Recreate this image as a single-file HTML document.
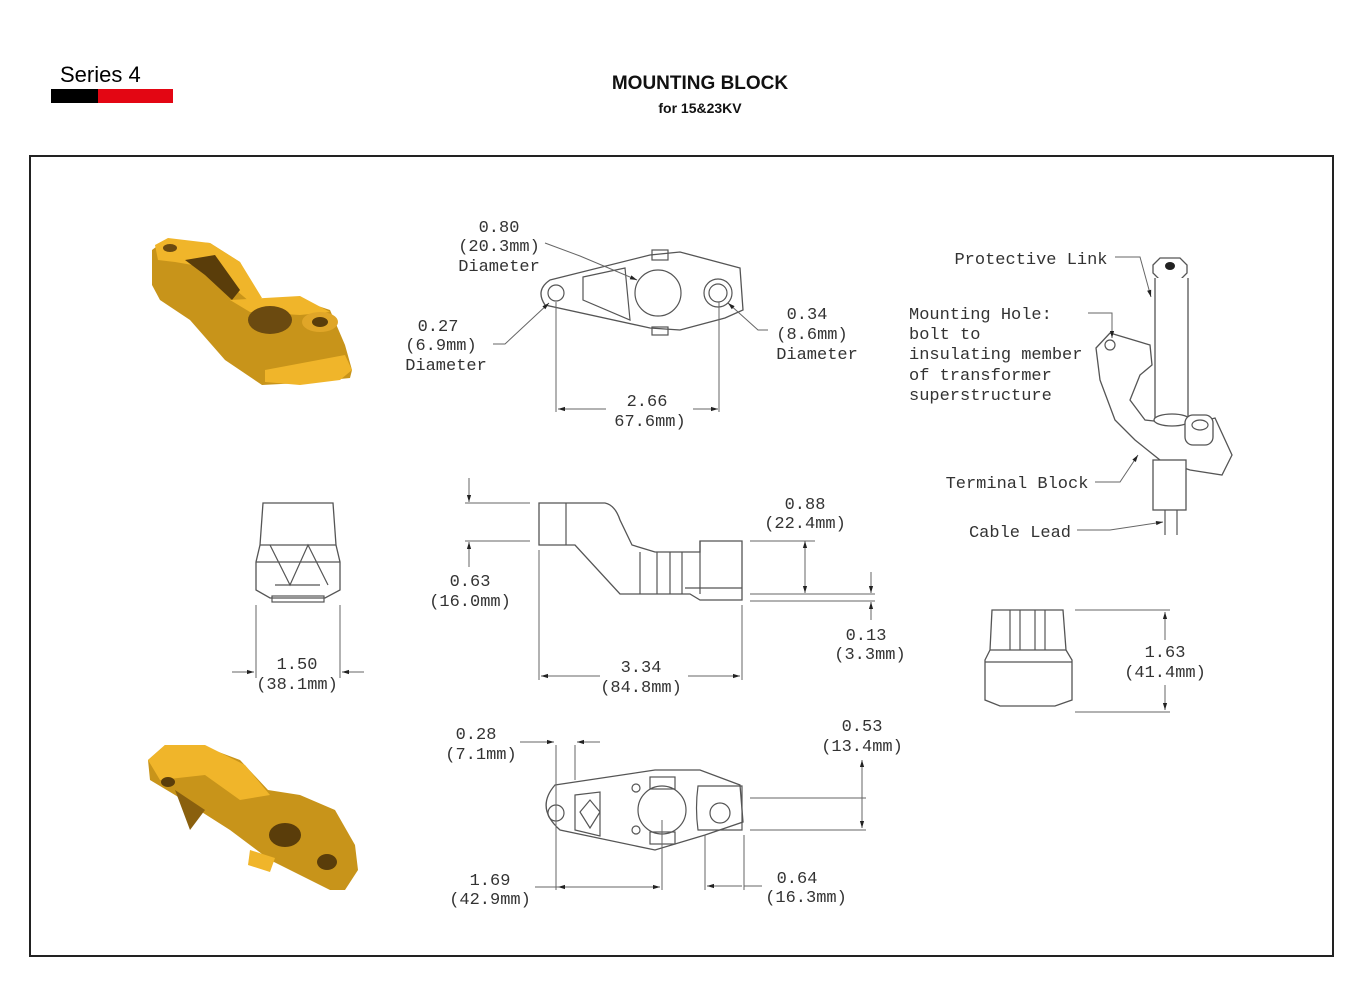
<!DOCTYPE html>
<html><head><meta charset="utf-8"><style>
html,body{margin:0;padding:0;background:#fff;}
svg{display:block;}
.t{font-family:"Liberation Mono",monospace;font-size:17px;fill:#333;}
.l{stroke:#555;stroke-width:1.2;fill:none;}
.d{stroke:#666;stroke-width:1;fill:none;}
.p{stroke:#555;stroke-width:1.3;fill:#fff;}
</style></head><body>
<svg width="1360" height="1003" viewBox="0 0 1360 1003" xmlns="http://www.w3.org/2000/svg">
<defs><marker id="a" viewBox="0 0 10 10" refX="10" refY="5" markerWidth="9" markerHeight="7" orient="auto-start-reverse"><path d="M0,2 L10,5 L0,8z" fill="#222"/></marker></defs>
<!-- header -->
<text x="60" y="82" font-family="Liberation Sans,sans-serif" font-size="22" fill="#000">Series 4</text>
<rect x="51" y="89" width="47" height="14" fill="#000"/><rect x="98" y="89" width="75" height="14" fill="#e30613"/>
<text x="700" y="89" text-anchor="middle" font-family="Liberation Sans,sans-serif" font-weight="bold" font-size="19" fill="#111">MOUNTING BLOCK</text>
<text x="700" y="113" text-anchor="middle" font-family="Liberation Sans,sans-serif" font-weight="bold" font-size="14" fill="#111">for 15&amp;23KV</text>
<rect x="30" y="156" width="1303" height="800" fill="none" stroke="#222" stroke-width="2"/>

<!-- gold part 1 -->
<g>
<polygon points="152,250 165,240 210,243 240,262 260,300 300,300 330,310 345,345 352,370 350,378 300,383 262,385 225,360 190,320 160,300 152,285" fill="#c8941a"/>
<polygon points="155,245 168,238 210,243 240,262 262,298 250,302 210,268 175,262 158,260" fill="#f0b52a"/>
<polygon points="185,260 215,255 240,290 232,300 205,275" fill="#5a3d0a"/>
<polygon points="230,300 300,296 330,312 300,315 250,312" fill="#f0b52a"/>
<ellipse cx="270" cy="320" rx="22" ry="14" fill="#6b4a10"/>
<ellipse cx="320" cy="322" rx="18" ry="10" fill="#e0a628"/><ellipse cx="320" cy="322" rx="8" ry="5" fill="#5a3d0a"/>
<polygon points="265,370 345,355 352,370 340,380 300,385 265,382" fill="#f0b52a"/>
<ellipse cx="170" cy="248" rx="7" ry="4" fill="#6b4a10"/>
</g>
<!-- gold part 2 -->
<g>
<polygon points="148,760 165,745 200,745 240,760 268,790 300,795 335,810 355,845 358,870 345,890 330,890 270,860 230,830 175,795 150,780" fill="#c8941a"/>
<polygon points="148,760 165,745 205,745 245,765 270,795 240,800 205,775 160,780" fill="#f0b52a"/>
<polygon points="175,790 205,810 190,830" fill="#8a600e"/>
<ellipse cx="285" cy="835" rx="16" ry="12" fill="#5a3d0a"/>
<ellipse cx="327" cy="862" rx="10" ry="8" fill="#5a3d0a"/>
<ellipse cx="168" cy="782" rx="7" ry="5" fill="#5a3d0a"/>
<polygon points="250,850 275,858 270,872 248,865" fill="#f0b52a"/>
</g>

<!-- top view -->
<path class="p" d="M550,280 L650,255 L680,252 L740,268 L743,310 L725,318 L680,330 L650,328 L545,305 Q535,290 550,280z"/>
<circle class="l" cx="556" cy="293" r="8"/>
<path class="l" d="M583,277 L625,268 L630,320 L583,300z"/>
<circle class="l" cx="658" cy="293" r="23"/>
<rect class="l" x="652" y="250" width="16" height="10"/><rect class="l" x="652" y="327" width="16" height="8"/>
<circle class="l" cx="718" cy="293" r="14"/><circle class="l" cx="718" cy="293" r="9"/>
<line class="d" x1="556" y1="302" x2="556" y2="412"/><line class="d" x1="719" y1="302" x2="719" y2="412"/>
<line class="d" x1="558" y1="409" x2="606" y2="409" marker-start="url(#a)"/><line class="d" x1="693" y1="409" x2="718" y2="409" marker-end="url(#a)"/>
<text class="t" x="647" y="406" text-anchor="middle">2.66</text><text class="t" x="650" y="426" text-anchor="middle">67.6mm)</text>
<polyline class="d" points="545,243 580,256 637,280" marker-end="url(#a)"/>
<text class="t" x="499" y="232" text-anchor="middle">0.80</text><text class="t" x="499" y="251" text-anchor="middle">(20.3mm)</text><text class="t" x="499" y="271" text-anchor="middle">Diameter</text>
<polyline class="d" points="493,344 505,344 549,303" marker-end="url(#a)"/>
<text class="t" x="438" y="331" text-anchor="middle">0.27</text><text class="t" x="441" y="350" text-anchor="middle">(6.9mm)</text><text class="t" x="446" y="370" text-anchor="middle">Diameter</text>
<polyline class="d" points="768,330 758,330 728,303" marker-end="url(#a)"/>
<text class="t" x="807" y="319" text-anchor="middle">0.34</text><text class="t" x="812" y="339" text-anchor="middle">(8.6mm)</text><text class="t" x="817" y="359" text-anchor="middle">Diameter</text>

<!-- side view -->
<path class="p" d="M539,503 L605,503 Q615,505 620,520 L632,545 L655,552 L700,552 L700,541 L742,541 L742,600 L700,600 L690,594 L620,594 L575,545 L539,545z"/>
<line class="l" x1="566" y1="503" x2="566" y2="545"/>
<line class="l" x1="640" y1="552" x2="640" y2="594"/><line class="l" x1="657" y1="552" x2="657" y2="594"/><line class="l" x1="670" y1="552" x2="670" y2="594"/><line class="l" x1="682" y1="552" x2="682" y2="594"/>
<line class="l" x1="700" y1="541" x2="700" y2="594"/><line class="l" x1="685" y1="588" x2="742" y2="588"/>
<line class="d" x1="465" y1="503" x2="530" y2="503"/><line class="d" x1="465" y1="541" x2="530" y2="541"/>
<line class="d" x1="469" y1="478" x2="469" y2="502" marker-end="url(#a)"/><line class="d" x1="469" y1="567" x2="469" y2="542" marker-end="url(#a)"/>
<text class="t" x="470" y="586" text-anchor="middle">0.63</text><text class="t" x="470" y="606" text-anchor="middle">(16.0mm)</text>
<line class="d" x1="750" y1="541" x2="815" y2="541"/><line class="d" x1="750" y1="594" x2="875" y2="594"/><line class="d" x1="750" y1="601" x2="875" y2="601"/>
<line class="d" x1="805" y1="541" x2="805" y2="593" marker-start="url(#a)" marker-end="url(#a)"/>
<text class="t" x="805" y="509" text-anchor="middle">0.88</text><text class="t" x="805" y="528" text-anchor="middle">(22.4mm)</text>
<line class="d" x1="871" y1="572" x2="871" y2="593" marker-end="url(#a)"/><line class="d" x1="871" y1="620" x2="871" y2="602" marker-end="url(#a)"/>
<text class="t" x="866" y="640" text-anchor="middle">0.13</text><text class="t" x="870" y="659" text-anchor="middle">(3.3mm)</text>
<line class="d" x1="539" y1="550" x2="539" y2="680"/><line class="d" x1="742" y1="605" x2="742" y2="680"/>
<line class="d" x1="541" y1="676" x2="600" y2="676" marker-start="url(#a)"/><line class="d" x1="688" y1="676" x2="740" y2="676" marker-end="url(#a)"/>
<text class="t" x="641" y="672" text-anchor="middle">3.34</text><text class="t" x="641" y="692" text-anchor="middle">(84.8mm)</text>

<!-- end view left -->
<path class="p" d="M263,503 L333,503 L336,545 L340,562 L340,590 L325,598 L270,598 L256,590 L256,562 L260,545z"/>
<line class="l" x1="260" y1="545" x2="336" y2="545"/><line class="l" x1="256" y1="562" x2="340" y2="562"/>
<path class="l" d="M270,545 L290,585 L308,545 L328,585 M275,585 L320,585"/>
<rect class="l" x="272" y="596" width="52" height="6"/>
<line class="d" x1="256" y1="605" x2="256" y2="678"/><line class="d" x1="340" y1="605" x2="340" y2="678"/>
<line class="d" x1="232" y1="672" x2="254" y2="672" marker-end="url(#a)"/><line class="d" x1="364" y1="672" x2="342" y2="672" marker-end="url(#a)"/>
<text class="t" x="297" y="669" text-anchor="middle">1.50</text><text class="t" x="297" y="689" text-anchor="middle">(38.1mm)</text>

<!-- end view right -->
<path class="p" d="M992,610 L1063,610 L1066,650 L1072,660 L1072,700 L1055,706 L1000,706 L985,700 L985,660 L990,650z"/>
<line class="l" x1="990" y1="650" x2="1066" y2="650"/><line class="l" x1="985" y1="662" x2="1072" y2="662"/>
<line class="l" x1="1010" y1="610" x2="1010" y2="650"/><line class="l" x1="1045" y1="610" x2="1045" y2="650"/>
<line class="l" x1="1020" y1="610" x2="1020" y2="650"/><line class="l" x1="1035" y1="610" x2="1035" y2="650"/>
<line class="d" x1="1075" y1="610" x2="1170" y2="610"/><line class="d" x1="1075" y1="712" x2="1170" y2="712"/>
<line class="d" x1="1165" y1="612" x2="1165" y2="640" marker-start="url(#a)"/><line class="d" x1="1165" y1="685" x2="1165" y2="710" marker-end="url(#a)"/>
<text class="t" x="1165" y="657" text-anchor="middle">1.63</text><text class="t" x="1165" y="677" text-anchor="middle">(41.4mm)</text>

<!-- bottom view -->
<path class="p" d="M555,785 L655,770 L700,770 L740,785 L743,822 L705,835 L655,850 L560,830 Q535,808 555,785z"/>
<circle class="l" cx="556" cy="813" r="8"/>
<path class="l" d="M575,795 L600,792 L600,836 L575,830z M580,812 L590,800 L600,812 L590,828z"/>
<circle class="l" cx="662" cy="810" r="24"/>
<rect class="l" x="650" y="777" width="25" height="12"/><rect class="l" x="650" y="832" width="25" height="12"/>
<circle class="l" cx="636" cy="788" r="4"/><circle class="l" cx="636" cy="830" r="4"/>
<path class="l" d="M698,786 L742,786 L742,830 L698,830 Q695,808 698,786z"/><circle class="l" cx="720" cy="813" r="10"/>
<line class="d" x1="556" y1="745" x2="556" y2="890"/><line class="d" x1="575" y1="745" x2="575" y2="780"/>
<line class="d" x1="520" y1="742" x2="554" y2="742" marker-end="url(#a)"/><line class="d" x1="600" y1="742" x2="577" y2="742" marker-end="url(#a)"/>
<text class="t" x="476" y="739" text-anchor="middle">0.28</text><text class="t" x="481" y="759" text-anchor="middle">(7.1mm)</text>
<line class="d" x1="662" y1="820" x2="662" y2="890"/>
<line class="d" x1="535" y1="887" x2="558" y2="887"/><line class="d" x1="558" y1="887" x2="660" y2="887" marker-start="url(#a)" marker-end="url(#a)"/>
<text class="t" x="490" y="885" text-anchor="middle">1.69</text><text class="t" x="490" y="904" text-anchor="middle">(42.9mm)</text>
<line class="d" x1="705" y1="835" x2="705" y2="890"/><line class="d" x1="744" y1="835" x2="744" y2="890"/>
<line class="d" x1="707" y1="886" x2="742" y2="886" marker-start="url(#a)"/><line class="d" x1="744" y1="886" x2="762" y2="886"/>
<text class="t" x="797" y="883" text-anchor="middle">0.64</text><text class="t" x="806" y="902" text-anchor="middle">(16.3mm)</text>
<line class="d" x1="750" y1="798" x2="866" y2="798"/><line class="d" x1="750" y1="830" x2="866" y2="830"/>
<line class="d" x1="862" y1="760" x2="862" y2="828" marker-start="url(#a)" marker-end="url(#a)"/>
<text class="t" x="862" y="731" text-anchor="middle">0.53</text><text class="t" x="862" y="751" text-anchor="middle">(13.4mm)</text>

<!-- assembly -->
<path class="p" d="M1153,265 L1160,258 L1180,258 L1187,265 L1187,273 L1180,280 L1160,280 L1153,273z"/>
<ellipse cx="1170" cy="266" rx="5" ry="4" fill="#222"/>
<path class="p" d="M1155,278 L1155,420 L1188,420 L1188,278"/>
<path class="p" d="M1096,348 L1110,333 L1150,345 L1152,365 L1140,375 L1130,400 L1145,420 L1190,425 L1215,418 L1232,455 L1222,475 L1190,470 L1160,460 L1135,440 L1115,420 L1100,380z"/>
<ellipse class="p" cx="1172" cy="420" rx="18" ry="6"/>
<rect class="p" x="1185" y="415" width="28" height="30" rx="8"/><ellipse class="l" cx="1200" cy="425" rx="8" ry="5"/>
<circle class="l" cx="1110" cy="345" r="5"/>
<rect class="p" x="1153" y="460" width="33" height="50"/>
<line class="l" x1="1165" y1="510" x2="1165" y2="535"/><line class="l" x1="1177" y1="510" x2="1177" y2="535"/>
<text class="t" x="1031" y="264" text-anchor="middle">Protective Link</text>
<polyline class="d" points="1115,257 1140,257 1151,297" marker-end="url(#a)"/>
<text class="t" x="909" y="319">Mounting Hole:</text><text class="t" x="909" y="339">bolt to</text><text class="t" x="909" y="359">insulating member</text><text class="t" x="909" y="380">of transformer</text><text class="t" x="909" y="400">superstructure</text>
<polyline class="d" points="1088,313 1112,313 1112,338" marker-end="url(#a)"/>
<text class="t" x="1017" y="488" text-anchor="middle">Terminal Block</text>
<polyline class="d" points="1095,482 1120,482 1138,455" marker-end="url(#a)"/>
<text class="t" x="1020" y="537" text-anchor="middle">Cable Lead</text>
<polyline class="d" points="1077,530 1110,530 1163,522" marker-end="url(#a)"/>
</svg>
</body></html>
